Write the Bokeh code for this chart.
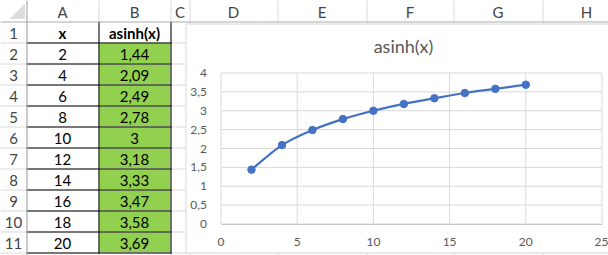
from bokeh.plotting import figure
from bokeh.models import (ColumnDataSource, FixedTicker, LinearAxis, Range1d)
from bokeh.embed import file_html
from bokeh.resources import INLINE
from bokeh.core.properties import value

# ---------------- data ----------------
col_letters = ["A", "B", "C", "D", "E", "F", "G", "H"]
row_numbers = list(range(1, 12))
header_cells = ["x", "asinh(x)"]
x_vals = [2, 4, 6, 8, 10, 12, 14, 16, 18, 20]
y_vals = [1.44, 2.09, 2.49, 2.78, 3, 3.18, 3.33, 3.47, 3.58, 3.69]
chart_title = "asinh(x)"
x_ticks = [0, 5, 10, 15, 20, 25]
y_ticks = [0, 0.5, 1, 1.5, 2, 2.5, 3, 3.5, 4]


def fmt(v):
    return f"{v:g}".replace(".", ",")


# ---------------- geometry / style (page pixels) ----------------
W, H = 608, 255
col_edges = [0, 26, 98, 170, 189, 277, 366, 453, 542, 630]  # row-number col, A..H
ROW_H = 21
CHART_L, CHART_T, CHART_B, CHART_R = 185, 23, 252, 621      # chart object box
PLOT_L, PLOT_R, PLOT_T, PLOT_B = 220.5, 601.5, 72.5, 223.5  # plot area
XMIN, XMAX, YMIN, YMAX = 0, 25, 0, 4
FONT = "Lato"
HEAD_TXT = "#444444"
GRID = "#DADADA"
HEAD_LINE = "#ABABAB"
BLUE = "#4472C4"
AX_TXT = "#595959"

# chart ranges that put the plot area where it belongs on the page-sized frame
kx = (PLOT_R - PLOT_L) / (XMAX - XMIN)
ky = (PLOT_B - PLOT_T) / (YMAX - YMIN)
cx_range = Range1d(XMIN - PLOT_L / kx, XMAX + (W - PLOT_R) / kx)
cy_range = Range1d(YMIN - (H - PLOT_B) / ky, YMAX + PLOT_T / ky)

p = figure(width=W, height=H, x_range=(0, W), y_range=(H, 0),
           x_axis_type=None, y_axis_type=None,
           toolbar_location=None, output_backend="svg")
p.min_border = 0
p.grid.visible = False
p.outline_line_color = None
p.background_fill_color = "white"
p.border_fill_color = "white"
p.extra_x_ranges = {"cx": cx_range}
p.extra_y_ranges = {"cy": cy_range}

txt = dict(text_font=value(FONT), text_font_size="15px", text_align="center",
           text_baseline="middle")

# ---------------- spreadsheet ----------------
row_top = [ROW_H * r for r in row_numbers]
row_mid = [t + ROW_H / 2 + 1 for t in row_top]

# green value cells
p.quad(left=[col_edges[2]] * len(y_vals), right=[col_edges[3]] * len(y_vals),
       top=row_top[1:], bottom=[t + ROW_H for t in row_top[1:]],
       fill_color="#92D050", line_color=None)
# light gridlines (rows and columns)
hy = [t + ROW_H + 0.5 for t in row_top]
p.segment(x0=[0] * len(hy), y0=hy, x1=[W] * len(hy), y1=hy, line_color=GRID, line_width=1)
vx = [e + 0.5 for e in col_edges[1:]]
p.segment(x0=vx, y0=[0] * len(vx), x1=vx, y1=[H] * len(vx), line_color=GRID, line_width=1)
# black table borders
p.segment(x0=[col_edges[1]] * len(hy), y0=hy, x1=[col_edges[3] + 1] * len(hy), y1=hy,
          line_color="black", line_width=1)
bx = [col_edges[2] + 0.5, col_edges[3] + 0.5]
p.segment(x0=bx, y0=[row_top[0]] * 2, x1=bx, y1=[row_top[-1] + ROW_H + 1] * 2,
          line_color="black", line_width=1)
# header row / row-number column edges
p.segment(x0=[0], y0=[ROW_H + 0.5], x1=[W], y1=[ROW_H + 0.5], line_color=HEAD_LINE, line_width=1)
p.segment(x0=[col_edges[1] + 0.5], y0=[0], x1=[col_edges[1] + 0.5], y1=[H],
          line_color=HEAD_LINE, line_width=1)
# corner triangle
cr = col_edges[1] - 2
p.patch([cr - 14, cr, cr], [ROW_H - 3, ROW_H - 3, ROW_H - 17], color="#DCDCDC")
# column letters and row numbers
letter_x = [(col_edges[i + 1] + col_edges[i + 2]) / 2 for i in range(len(col_letters))]
p.text(x=letter_x, y=[ROW_H / 2 + 1] * len(col_letters), text=col_letters,
       text_color=HEAD_TXT, **txt)
p.text(x=[col_edges[1] / 2] * len(row_numbers), y=row_mid, text=[str(r) for r in row_numbers],
       text_color=HEAD_TXT, **txt)
# table contents
cell_x = [(col_edges[1] + col_edges[2]) / 2, (col_edges[2] + col_edges[3]) / 2]
p.text(x=cell_x, y=[row_mid[0]] * 2, text=header_cells, text_color="black",
       text_font_style="bold", **txt)
p.text(x=[cell_x[0]] * len(x_vals), y=row_mid[1:], text=[fmt(v) for v in x_vals],
       text_color="black", **txt)
p.text(x=[cell_x[1]] * len(y_vals), y=row_mid[1:], text=[fmt(v) for v in y_vals],
       text_color="black", **txt)

# ---------------- chart object ----------------
p.quad(left=[CHART_L + 0.5], right=[CHART_R], top=[CHART_T + 0.5], bottom=[CHART_B + 0.5],
       fill_color="white", line_color="#D9D9D9", line_width=1)
p.text(x=[(CHART_L + CHART_R) / 2], y=[45], text=[chart_title], text_color=AX_TXT,
       text_font=value(FONT), text_font_size="18px", text_align="center",
       text_baseline="middle")

ch = dict(x_range_name="cx", y_range_name="cy")
# gridlines
p.segment(x0=x_ticks, y0=[YMIN] * len(x_ticks), x1=x_ticks, y1=[YMAX] * len(x_ticks),
          line_color="#D9D9D9", line_width=1, **ch)
p.segment(x0=[XMIN] * len(y_ticks), y0=y_ticks, x1=[XMAX] * len(y_ticks), y1=y_ticks,
          line_color="#D9D9D9", line_width=1, **ch)

# axes
xax = LinearAxis(fixed_location=YMIN, bounds=(XMIN, XMAX), ticker=FixedTicker(ticks=x_ticks), **ch)
yax = LinearAxis(fixed_location=XMIN, bounds=(YMIN, YMAX), ticker=FixedTicker(ticks=y_ticks), **ch)
xax.major_label_overrides = {t: fmt(t) for t in x_ticks}
yax.major_label_overrides = {t: fmt(t) for t in y_ticks}
for ax in (xax, yax):
    ax.major_tick_line_color = None
    ax.minor_tick_line_color = None
    ax.major_label_text_font = FONT
    ax.major_label_text_font_size = "12px"
    ax.major_label_text_color = AX_TXT
    ax.major_label_standoff = 8
xax.axis_line_color = "#C8C8C8"
yax.axis_line_color = None
p.add_layout(xax, "below")
p.add_layout(yax, "left")

# smoothed series line (Catmull-Rom style bezier through the data points)
px = [x_vals[0]] + x_vals + [x_vals[-1]]
py = [y_vals[0]] + y_vals + [y_vals[-1]]
bz = dict(x0=[], y0=[], x1=[], y1=[], cx0=[], cy0=[], cx1=[], cy1=[])
for i in range(1, len(px) - 2):
    bz["x0"].append(px[i]); bz["y0"].append(py[i])
    bz["x1"].append(px[i + 1]); bz["y1"].append(py[i + 1])
    bz["cx0"].append(px[i] + (px[i + 1] - px[i - 1]) / 6)
    bz["cy0"].append(py[i] + (py[i + 1] - py[i - 1]) / 6)
    bz["cx1"].append(px[i + 1] - (px[i + 2] - px[i]) / 6)
    bz["cy1"].append(py[i + 1] - (py[i + 2] - py[i]) / 6)
p.bezier(x0="x0", y0="y0", x1="x1", y1="y1", cx0="cx0", cy0="cy0", cx1="cx1", cy1="cy1",
         source=ColumnDataSource(bz), line_color=BLUE, line_width=2.25, **ch)
p.scatter(x_vals, y_vals, size=7.5, marker="circle", fill_color=BLUE, line_color=BLUE, **ch)

open("out.html", "w").write(file_html(p, INLINE))
